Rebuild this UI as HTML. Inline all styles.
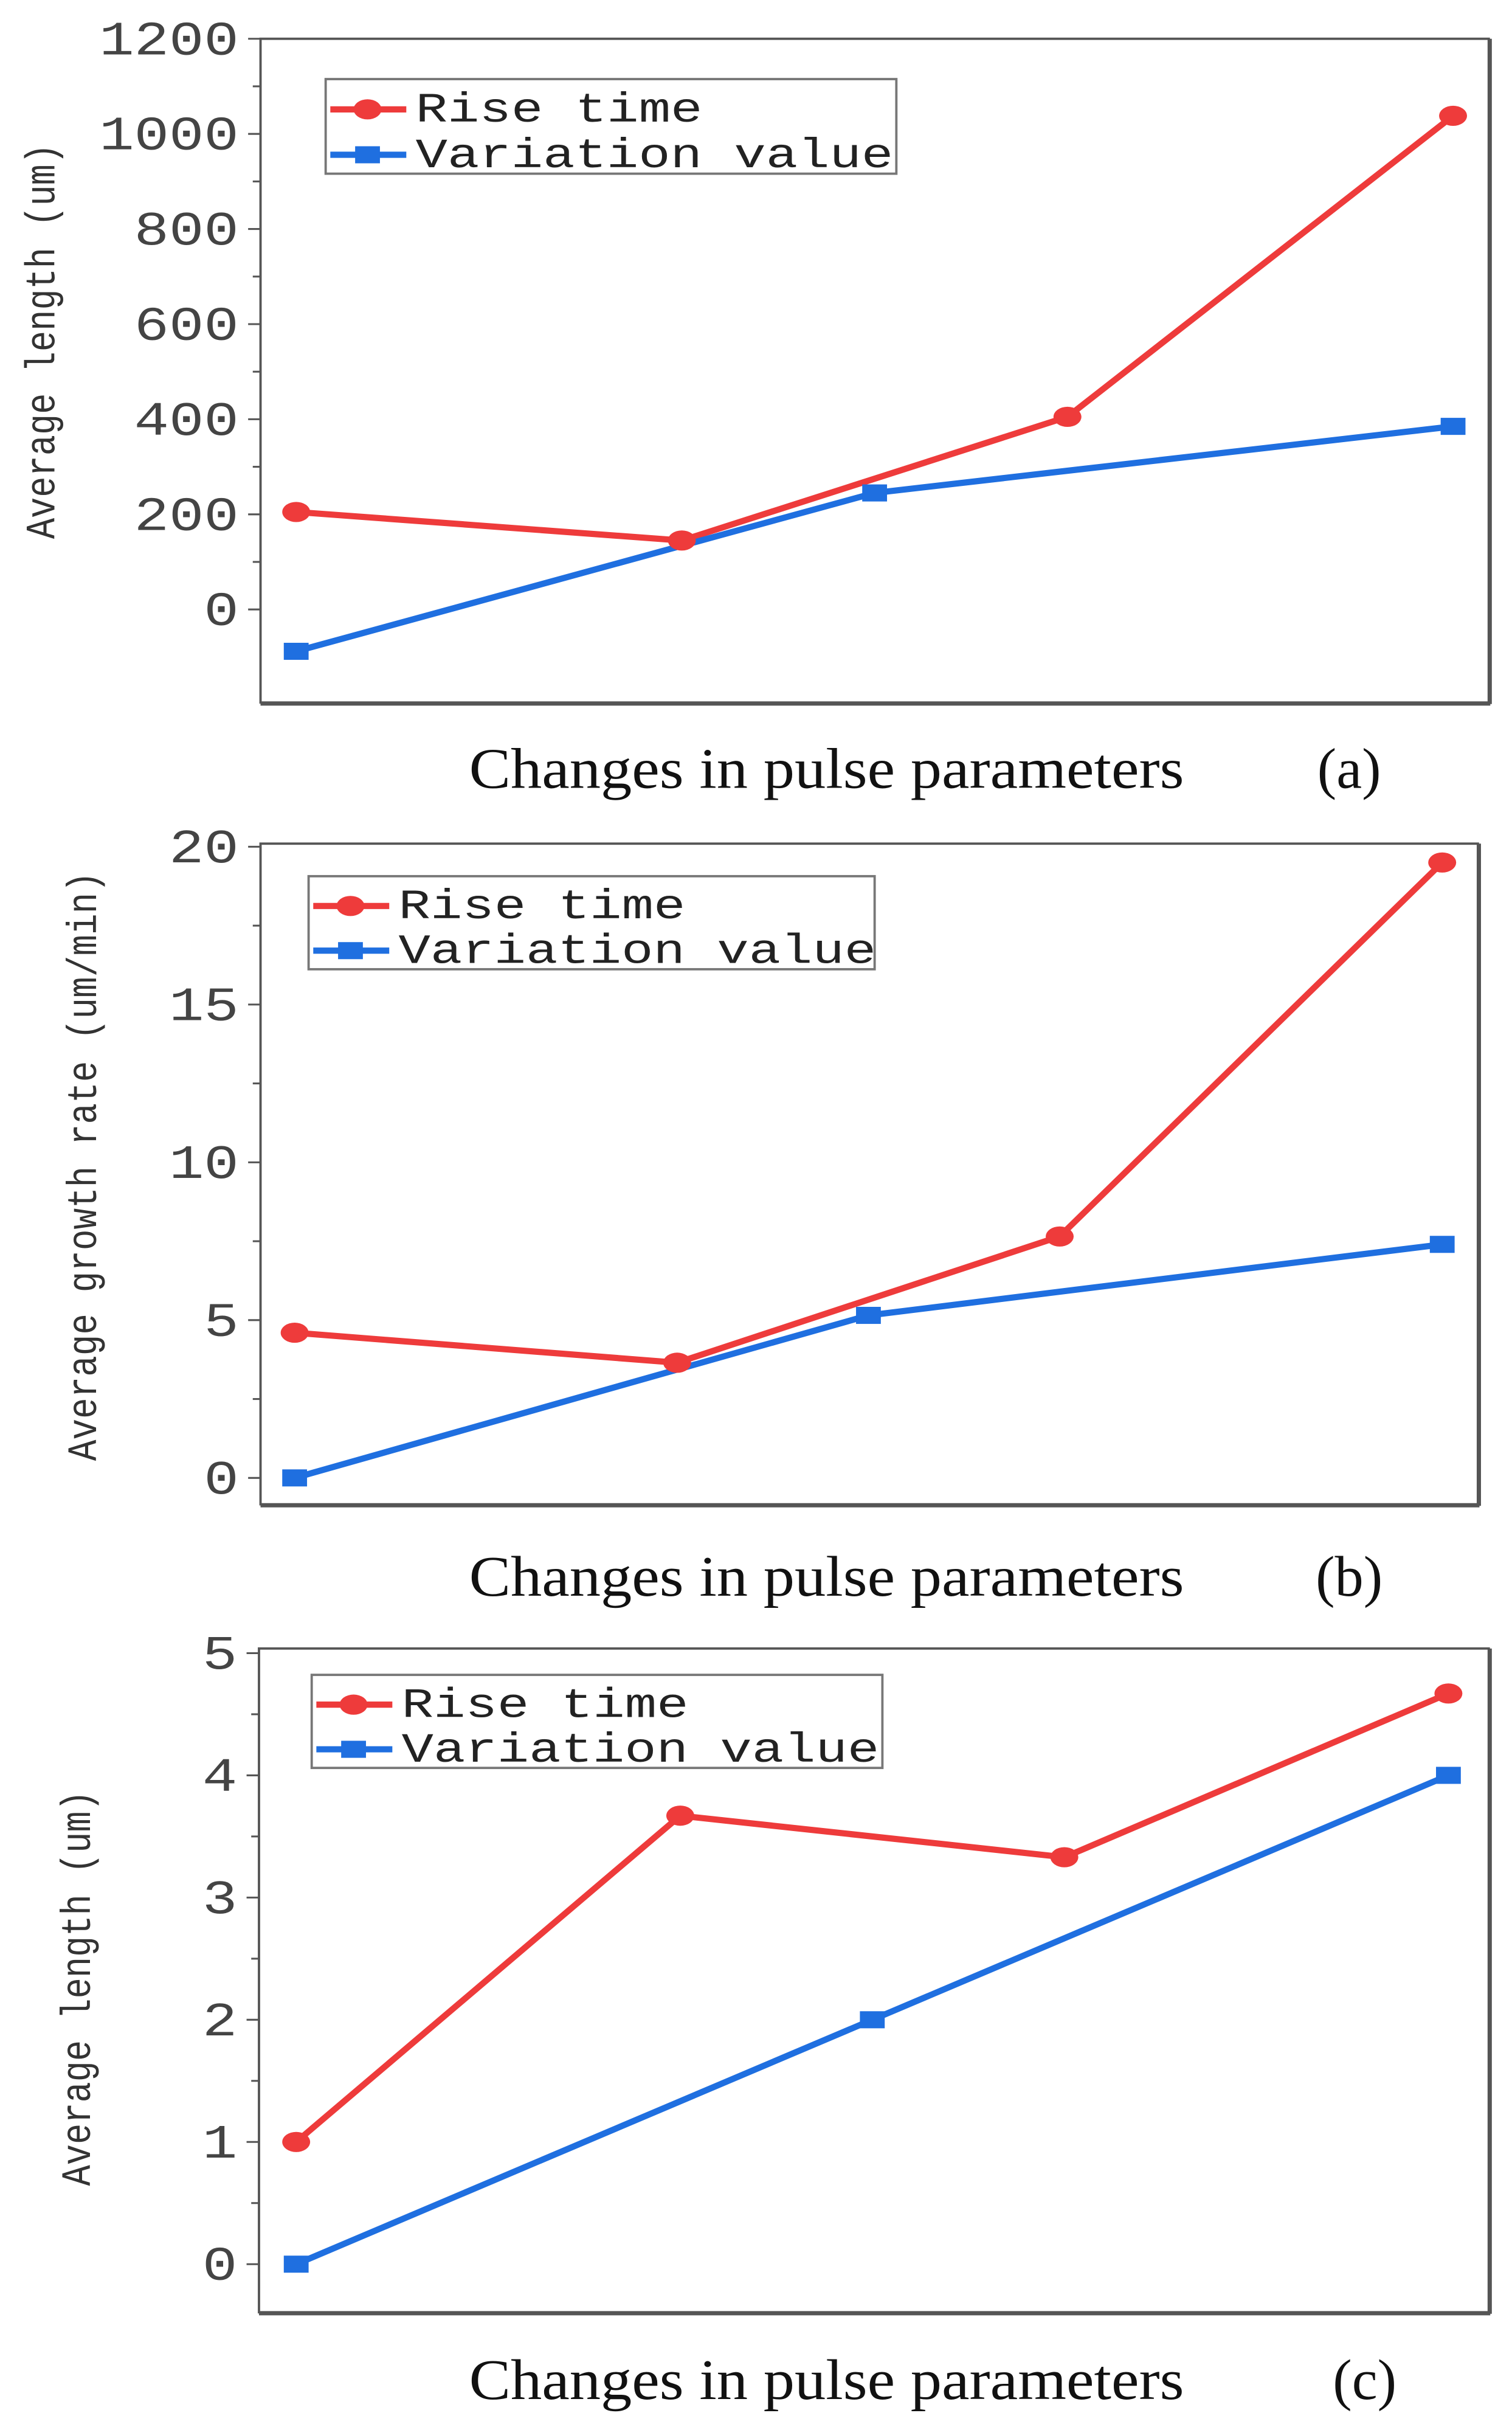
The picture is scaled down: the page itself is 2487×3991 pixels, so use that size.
<!DOCTYPE html>
<html><head><meta charset="utf-8"><style>
html,body{margin:0;padding:0;background:#fff}
svg{display:block}
.tk{font-family:"Liberation Mono",monospace;font-size:31px;fill:#444}
.lg{font-family:"Liberation Mono",monospace;font-size:27px;fill:#222}
.yl{font-family:"Liberation Mono",monospace;font-size:27px;fill:#333}
.xt{font-family:"Liberation Serif",serif;font-size:37px;fill:#111}
</style></head><body>
<svg id="chart" width="2487" height="3991" viewBox="0 0 975 1565" preserveAspectRatio="none" xmlns="http://www.w3.org/2000/svg"></svg>
<script>
// Panel data (x positions are parameter indices 0..6)
const redXA=[0,2,4,6];
const redA=[205,145,405,1038];
const blueXA=[0,3,6];
const blueA=[-88,245,385];
const ticksA=[0,200,400,600,800,1000,1200];

const redXB=[0,2,4,6];
const redB=[4.6,3.65,7.65,19.5];
const blueXB=[0,3,6];
const blueB=[0,5.15,7.4];
const ticksB=[0,5,10,15,20];

const redXC=[0,2,4,6];
const redC=[1.0,3.67,3.33,4.67];
const blueXC=[0,3,6];
const blueC=[0,2.0,4.0];
const ticksC=[0,1,2,3,4,5];

const NS="http://www.w3.org/2000/svg";
const svg=document.getElementById('chart');
function mk(tag,attrs,parent){const e=document.createElementNS(NS,tag);for(const k in attrs)e.setAttribute(k,attrs[k]);(parent||svg).appendChild(e);return e;}

const panels=[
 {id:'a',box:[168,25,960,453],x0:191,x1:937,y0v:0,y0p:393,y1v:1200,y1p:25,ticks:ticksA,minor:100,rx:redXA,ry:redA,bx:blueXA,by:blueA,
  leg:[210,51,578,112],ylab:'Average length (um)',yll:255,ylx:35,yly:220,xt:497,tag:'(a)',tagx:870},
 {id:'b',box:[168,544,953,970],x0:190,x1:930,y0v:0,y0p:953,y1v:20,y1p:546,ticks:ticksB,minor:2.5,rx:redXB,ry:redB,bx:blueXB,by:blueB,
  leg:[199,565,564,625],ylab:'Average growth rate (um/min)',yll:380,ylx:62,yly:752,xt:1018,tag:'(b)',tagx:870},
 {id:'c',box:[167,1063,960,1491],x0:191,x1:934,y0v:0,y0p:1460,y1v:5,y1p:1066,ticks:ticksC,minor:0.5,rx:redXC,ry:redC,bx:blueXC,by:blueC,
  leg:[201,1080,569,1140],ylab:'Average length (um)',yll:255,ylx:58,yly:1282,xt:1536,tag:'(c)',tagx:880}
];

panels.forEach(p=>{
  const g=mk('g',{});
  
  
  const X=v=>p.x0+(p.x1-p.x0)*v/6;
  const Y=v=>p.y0p+(p.y1p-p.y0p)*(v-p.y0v)/(p.y1v-p.y0v);
  const [l,t,r,b]=p.box;
  const frame=mk('rect',{x:l,y:t,width:r-l,height:b-t,fill:'none',stroke:'#555','stroke-width':1.5},g);
  
  
  mk('line',{x1:r+1,y1:t,x2:r+1,y2:b+1,stroke:'#555','stroke-width':2},g);
  mk('line',{x1:l,y1:b+1,x2:r+1,y2:b+1,stroke:'#555','stroke-width':2},g);
  const tmax=p.ticks[p.ticks.length-1];
  for(let v=p.y0v;v<=tmax+1e-9;v+=p.minor){
    const major=p.ticks.some(t=>Math.abs(t-v)<1e-9);
    mk('line',{x1:l-(major?8:5),y1:Y(v),x2:l,y2:Y(v),stroke:'#555','stroke-width':1.2},g);
  }
  p.ticks.forEach(v=>{
    const s=String(v);
    const tx=mk('text',{x:l-14,y:Y(v)+10,'text-anchor':'end',class:'tk',textLength:s.length*22.5,lengthAdjust:'spacingAndGlyphs'},g);
    tx.textContent=s;
    
    
  });
  const yl=mk('text',{x:p.ylx,y:p.yly,'text-anchor':'middle',class:'yl',textLength:p.yll,lengthAdjust:'spacingAndGlyphs',transform:`rotate(-90 ${p.ylx} ${p.yly})`},g);
  yl.textContent=p.ylab;
  
  
  const xt=mk('text',{x:533,y:p.xt+11,'text-anchor':'middle',class:'xt',textLength:461,lengthAdjust:'spacingAndGlyphs'},g);
  xt.textContent='Changes in pulse parameters';
  
  
  const tg=mk('text',{x:p.tagx,y:p.xt+11,'text-anchor':'middle',class:'xt'},g);
  tg.textContent=p.tag;
  
  
  const rl=mk('polyline',{points:p.rx.map((x,i)=>X(x)+','+Y(p.ry[i])).join(' '),fill:'none',stroke:'#ee3b3b','stroke-width':4},g);
  
  
  const bl=mk('polyline',{points:p.bx.map((x,i)=>X(x)+','+Y(p.by[i])).join(' '),fill:'none',stroke:'#1f6fe0','stroke-width':4},g);
  
  
  p.rx.forEach((x,i)=>{
    const c=mk('ellipse',{cx:X(x),cy:Y(p.ry[i]),rx:9,ry:6.5,fill:'#ee3b3b'},g);
    
    
  });
  p.bx.forEach((x,i)=>{
    const s=mk('rect',{x:X(x)-8,y:Y(p.by[i])-5.5,width:16,height:11,fill:'#1f6fe0'},g);
    
    
  });
  const [a,bb,c2,d]=p.leg;
  const lg=mk('g',{},g);
  
  
  mk('rect',{x:a,y:bb,width:c2-a,height:d-bb,fill:'#fff',stroke:'#777','stroke-width':1.5},lg);
  const r1=bb+(d-bb)*0.32, r2=bb+(d-bb)*0.8;
  mk('line',{x1:a+3,y1:r1,x2:a+52,y2:r1,stroke:'#ee3b3b','stroke-width':4},lg);
  mk('ellipse',{cx:a+27,cy:r1,rx:9,ry:6.5,fill:'#ee3b3b'},lg);
  mk('line',{x1:a+3,y1:r2,x2:a+52,y2:r2,stroke:'#1f6fe0','stroke-width':4},lg);
  mk('rect',{x:a+19,y:r2-5.5,width:16,height:11,fill:'#1f6fe0'},lg);
  const t1=mk('text',{x:a+58,y:r1+8,class:'lg',textLength:185,lengthAdjust:'spacingAndGlyphs'},lg);t1.textContent='Rise time';
  
  
  const t2=mk('text',{x:a+58,y:r2+8,class:'lg',textLength:308,lengthAdjust:'spacingAndGlyphs'},lg);t2.textContent='Variation value';
  
  
});
</script>
</body></html>
